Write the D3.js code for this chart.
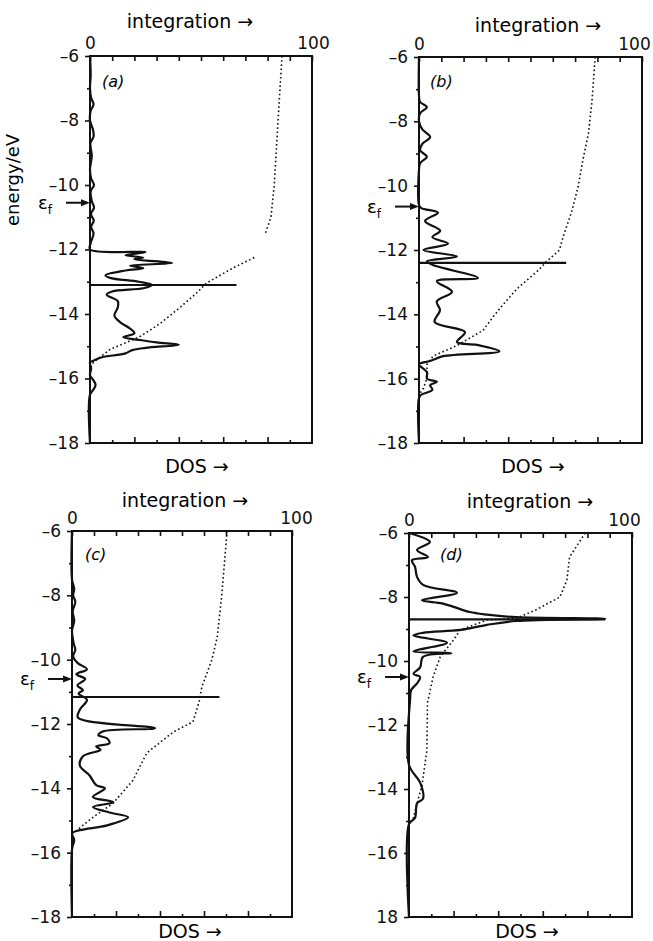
<!DOCTYPE html>
<html>
<head>
<meta charset="utf-8">
<script src="https://cdn.jsdelivr.net/npm/d3@7"></script>
<style>
  body { margin: 0; background: #fff; }
  svg { display: block; font-family: "DejaVu Sans", sans-serif; }
</style>
</head>
<body>
<svg id="viewer" width="653" height="941"></svg>
<script>
// tick values / labels
var energyMajor = [-6, -8, -10, -12, -14, -16, -18];
var energyMinor = [-7, -9, -11, -13, -15, -17];
var energyLabels = ["-6", "-8", "-10", "-12", "-14", "-16", "-18"];
var energyLabelsD = ["-6", "-8", "-10", "-12", "-14", "-16", "18"];
var topTicks = [0, 10, 20, 30, 40, 50, 60, 70, 80, 90, 100];
var topLabels = ["0", "100"];
var bottomMajor = [20, 40, 60, 80];
var bottomMinor = [10, 30, 50, 70, 90];

// density of states, [energy, value]
var dosA = [[-6,0],[-6.6,0.3],[-7,0],[-7.3,0.5],[-7.5,1.6],[-7.7,0.3],[-8,0],[-8.3,1.4],[-8.5,1.6],[-8.7,0.2],[-9.1,0.8],[-9.5,0],[-9.8,0.5],[-10,1.8],[-10.2,0.3],[-10.5,0.8],[-10.7,1.8],[-10.9,0.4],[-11.1,1.7],[-11.3,0.5],[-11.5,1.6],[-11.8,0.3],[-12,0],
  [-12.08,25],[-12.18,16],[-12.25,24],[-12.3,20],[-12.42,37],[-12.5,18],[-12.58,24],[-12.65,16],[-12.8,7],[-12.88,9],[-13,22],[-13.1,28],[-13.2,24],[-13.3,10],[-13.4,7.5],[-13.6,12.5],[-13.8,12.5],[-14.05,11],[-14.25,13.5],[-14.45,18],[-14.6,20],[-14.72,15],[-14.8,22],[-14.88,30],[-14.95,40],[-15.05,25],[-15.12,19],[-15.22,16],[-15.35,5],[-15.45,1.5],[-15.5,0],[-15.7,0.5],[-15.9,0],[-16.05,1.5],[-16.2,2.5],[-16.35,1.5],[-16.5,0],[-18,0]];
var dosB = [[-6,0],[-7.2,0],[-7.4,0.5],[-7.56,3.5],[-7.75,0.5],[-8,0],[-8.25,1.5],[-8.49,5],[-8.7,1.5],[-8.9,0.5],[-9.1,3.5],[-9.3,0.5],[-9.5,0],[-10.6,0],[-10.7,1],[-10.84,8.5],[-11.1,2.7],[-11.4,9.5],[-11.6,6],[-11.8,13],[-12,2],[-12.2,17],[-12.35,3.6],[-12.47,6.3],[-12.87,26.5],[-12.97,8],[-13.3,14.8],[-13.6,8],[-13.87,9.4],[-14.24,7],[-14.55,20.6],[-14.86,17],[-14.95,26],[-15.15,36],[-15.3,10.8],[-15.45,5],[-15.55,0],[-15.8,3.6],[-16,3.6],[-16.1,8],[-16.2,5],[-16.35,6],[-16.5,1],[-16.6,0],[-18,0]];
var dosC = [[-6,0],[-7.5,0],[-7.8,1],[-8,0.5],[-8.2,1.5],[-8.5,0.3],[-8.8,1],[-9.1,0],[-9.5,0.8],[-9.7,1.5],[-9.9,0.5],[-10.1,2.5],[-10.3,6.8],[-10.45,2],[-10.6,6],[-10.8,2.5],[-10.95,5],[-11.05,3],[-11.25,6.8],[-11.55,3.6],[-11.8,2.7],[-12.13,37.7],[-12.23,14],[-12.35,12],[-12.45,16],[-12.6,17],[-12.7,11],[-12.8,13],[-13,5],[-13.3,3.6],[-13.6,8],[-13.9,11],[-14,15],[-14.27,9.5],[-14.43,18.8],[-14.58,9.5],[-14.75,17],[-14.9,25.5],[-15.15,16],[-15.3,3.6],[-15.4,0],[-15.6,1],[-15.9,0],[-18,0]];
var dosD = [[-6,0],[-6.28,9.4],[-6.53,3.6],[-6.75,8.5],[-6.85,1.3],[-7.06,2.7],[-7.37,3.6],[-7.62,6.3],[-7.87,21.5],[-8.1,5.8],[-8.2,14.8],[-8.3,19.7],[-8.47,27.3],[-8.55,35],[-8.63,48],[-8.68,88],[-8.75,48],[-8.87,35],[-9.03,23],[-9.12,6.3],[-9.2,2],[-9.43,17],[-9.7,2],[-9.75,19],[-9.87,6.3],[-10.2,5],[-10.4,2],[-10.5,5],[-10.7,3.6],[-10.9,1],[-11.2,0.5],[-13.25,0],[-13.8,5],[-14.3,6.3],[-14.45,3.6],[-14.9,2.7],[-15.1,0],[-18,0]];

// integrated DOS (%), null = gap in the dotted curve
var intA = [[-6,86.5],[-8,84.7],[-10,83],[-11,81.5],[-11.5,79],null,[-12.25,74],[-12.57,64.5],[-13.04,52.5],[-13.35,48],[-13.8,40.5],[-14.3,31.5],[-14.7,22.5],[-15.1,9],[-15.5,1.5],[-15.7,0]];
var intB = [[-6,79],[-7.35,77.6],[-8.37,76],[-9.2,73.5],[-10.05,71.3],[-10.8,68.5],[-11.6,64.6],[-12,63],[-12.37,57],[-12.6,54],[-13.2,44],[-13.7,37.7],[-14.1,33],[-14.5,28.7],[-14.97,17],[-15.3,6.3],[-15.55,3.6],[-15.97,3.6],[-16.3,2],[-16.5,0]];
var intC = [[-6,70.5],[-8.05,68],[-9.3,66],[-10,63.6],[-10.85,59],[-11.25,58],[-11.93,55],[-12.25,46],[-12.9,34],[-13.75,27.7],[-14.47,18.6],[-14.9,9.5],[-15.3,2.3],[-15.4,0]];
var intD = [[-6,79],[-6.75,72],[-7.47,70.8],[-8,67.7],[-8.4,57],[-8.67,48],[-8.72,35],[-9.03,23],[-9.34,20],[-9.87,14],[-10.5,10.8],[-11.3,8.3],[-12.8,8],[-13.9,5.8],[-14.35,4],[-14.9,2],[-15.1,0]];

// sharp peak (energy, height) and Fermi level per panel
var spikes = [[-13.1, 66], [-12.4, 66], [-11.16, 67], [-8.7, 88]];
var fermi = [-10.55, -10.65, -10.6, -10.5];
var panelNames = ["(a)", "(b)", "(c)", "(d)"];

var svg = d3.select('#viewer');

var panels = [
  { x0: 90, x1: 312, y0: 56, y1: 443, dos: dosA, integ: intA, labels: energyLabels,
    title: [190, 28], dosLabel: [197, 473], name: [12, 31], hundred: 1 },
  { x0: 419, x1: 642, y0: 57, y1: 443, dos: dosB, integ: intB, labels: energyLabels,
    title: [538, 32], dosLabel: [533, 473], name: [11, 30], hundred: -8 },
  { x0: 72, x1: 292, y0: 531, y1: 917, dos: dosC, integ: intC, labels: energyLabels,
    title: [185, 507], dosLabel: [190, 938], name: [13, 29], hundred: 4 },
  { x0: 409, x1: 632, y0: 533, y1: 917, dos: dosD, integ: intD, labels: energyLabelsD,
    title: [530, 508], dosLabel: [527, 938], name: [31, 27], hundred: -8 }
];

panels.forEach(draw);

// y label only on (a)
svg.append('text')
    .attr('transform', 'translate(19 180) rotate(-90)')
    .attr('text-anchor', 'middle')
    .attr('font-size', 18)
    .text('energy/eV');

function draw(p, i) {
    let g = svg.append('g');

    let x = d3.scaleLinear().domain([0, 100]).range([p.x0, p.x1]);
    let y = d3.scaleLinear().domain([-6, -18]).range([p.y0, p.y1]);

    // axes
    g.append('g')
        .attr('transform', `translate(${p.x0} 0)`)
        .call(d3.axisLeft(y).tickValues(energyMajor).tickSize(5).tickPadding(6)
            .tickFormat((d, k) => p.labels[k].replace('-', '\u2013')));
    g.append('g')
        .attr('transform', `translate(${p.x0} 0)`)
        .call(d3.axisLeft(y).tickValues(energyMinor).tickSize(3).tickFormat(''));

    let top = g.append('g')
        .attr('transform', `translate(0 ${p.y0})`)
        .call(d3.axisTop(x).tickValues(topTicks).tickSizeInner(-5).tickSizeOuter(0).tickPadding(7)
            .tickFormat(d => d == 0 ? topLabels[0] : d == 100 ? topLabels[1] : ''));
    top.selectAll('.tick text').filter(d => d == 100).attr('dx', p.hundred);

    g.append('g')
        .attr('transform', `translate(0 ${p.y1})`)
        .call(d3.axisBottom(x).tickValues(bottomMajor).tickSizeInner(-6).tickSizeOuter(0).tickFormat(''));
    g.append('g')
        .attr('transform', `translate(0 ${p.y1})`)
        .call(d3.axisBottom(x).tickValues(bottomMinor).tickSizeInner(-3).tickSizeOuter(0).tickFormat(''));

    g.selectAll('.domain').remove();
    g.selectAll('.tick line').attr('stroke', '#111').attr('stroke-width', 1.6);
    g.selectAll('.tick text')
        .attr('fill', '#111')
        .attr('font-family', '"DejaVu Sans", sans-serif')
        .attr('font-size', 17);

    g.append('rect')
        .attr('x', p.x0).attr('y', p.y0)
        .attr('width', p.x1 - p.x0).attr('height', p.y1 - p.y0)
        .attr('fill', 'none')
        .attr('stroke', '#111')
        .attr('stroke-width', 2);

    // curves
    let line = d3.line()
        .defined(d => d)
        .x(d => x(d[1]))
        .y(d => y(d[0]));

    g.append('path')
        .attr('d', line.curve(d3.curveLinear)(p.integ))
        .attr('fill', 'none')
        .attr('stroke', '#111')
        .attr('stroke-width', 1.6)
        .attr('stroke-dasharray', '1.6 2.6');

    g.append('path')
        .attr('d', line.curve(d3.curveCatmullRom.alpha(0.5))(p.dos))
        .attr('fill', 'none')
        .attr('stroke', '#111')
        .attr('stroke-width', 2.2)
        .attr('stroke-linejoin', 'round');

    let s = spikes[i];
    g.append('line')
        .attr('x1', x(0)).attr('x2', x(s[1]))
        .attr('y1', y(s[0])).attr('y2', y(s[0]))
        .attr('stroke', '#111')
        .attr('stroke-width', 2.2);

    // labels
    g.append('text')
        .attr('x', p.title[0]).attr('y', p.title[1])
        .attr('text-anchor', 'middle')
        .attr('font-size', 19)
        .text('integration \u2192');

    g.append('text')
        .attr('x', p.dosLabel[0]).attr('y', p.dosLabel[1])
        .attr('text-anchor', 'middle')
        .attr('font-size', 19)
        .text('DOS \u2192');

    g.append('text')
        .attr('x', p.x0 + p.name[0]).attr('y', p.y0 + p.name[1])
        .attr('font-size', 16)
        .attr('font-style', 'italic')
        .text(panelNames[i]);

    // Fermi level arrow
    let ef = y(fermi[i]);
    g.append('line')
        .attr('x1', p.x0 - 24).attr('x2', p.x0 - 7)
        .attr('y1', ef).attr('y2', ef)
        .attr('stroke', '#111')
        .attr('stroke-width', 2);
    g.append('path')
        .attr('d', `M${p.x0},${ef} L${p.x0 - 9},${ef - 3.5} L${p.x0 - 9},${ef + 3.5} Z`)
        .attr('fill', '#111');

    let eps = g.append('text')
        .attr('x', p.x0 - 52).attr('y', ef + 6)
        .attr('font-size', 18)
        .text('\u03b5');
    eps.append('tspan')
        .attr('font-size', 12)
        .attr('dy', 5)
        .text('f');
}
</script>
</body>
</html>
